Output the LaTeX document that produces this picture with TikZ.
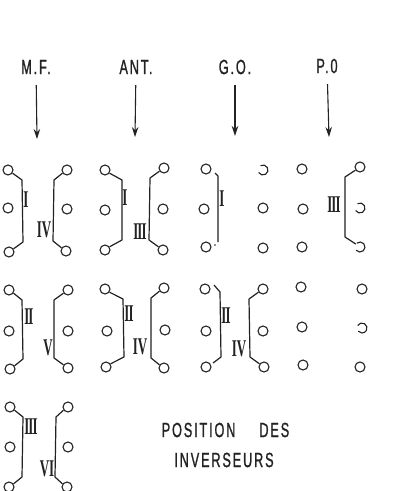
\documentclass[tikz,border=0pt]{standalone}
\usepackage{fontspec}
\usetikzlibrary{calc,arrows.meta}
\newfontfamily\cond[FakeStretch=0.62,FakeBold=1,LetterSpace=9]{Liberation Sans}
\newfontfamily\rom[FakeStretch=0.54]{Liberation Serif}
\definecolor{ink}{HTML}{222222}
\tikzset{
  x=1pt,y=-1pt,
  pin/.style={circle,draw=ink,line width=1.1pt,minimum size=10pt,inner sep=0pt},
  openpin/.style={circle,minimum size=10pt,inner sep=0pt},
  brk/.style={draw=ink,line width=1.2pt,line join=round},
  arr/.style={draw=ink,line width=1.1pt,shorten <=9pt,-{Stealth[length=10pt,width=6.5pt]}},
  ttl/.style={text=ink,font=\cond\fontsize{20.5}{20.5}\selectfont,inner sep=0pt,minimum height=18pt},
  num/.style={text=ink,font=\rom\bfseries\fontsize{24}{24}\selectfont,inner sep=0pt},
}
% right-hand bracket of a left column, and left-hand bracket of a right column
\newcommand\rb[3]{\draw[brk] (#1.-35) -- ($(#1)+(#3,10)$) -- ($(#2)+(#3,-10)$) -- (#2.35);}
\newcommand\lb[3]{\draw[brk] (#1.215) -- ($(#1)+(-#3,10)$) -- ($(#2)+(-#3,-10)$) -- (#2.145);}
\newcommand\II{I\kern-1pt I}
\newcommand\III{I\kern-1pt I\kern-1pt I}
\begin{document}
\begin{tikzpicture}
\useasboundingbox (0,0) rectangle (396,491);
% titles and arrows
\node[ttl] (mf) at (36,67) {M.F.};
\node[ttl] (ant) at (136,67) {ANT.};
\node[ttl] (go) at (235,67) {G.O.};
\node[ttl] (po) at (327,66) {P.0};
\coordinate (mfa) at (37,139);
\coordinate (anta) at (135,137);
\coordinate (goa) at (235,136);
\coordinate (poa) at (329,137);
\draw[arr] (mf) -- (mfa);
\draw[arr] (ant) -- (anta);
\draw[arr] (go) -- (goa);
\draw[arr] (po) -- (poa);
% row 1 pins
\node[pin] (a1) at (8,170) {}; \node[pin] (a2) at (8,208) {}; \node[pin] (a3) at (9,252) {};
\node[pin] (b1) at (67,170) {}; \node[pin] (b2) at (67,209) {}; \node[pin] (b3) at (66,251) {};
\node[pin] (c1) at (105,170) {}; \node[pin] (c2) at (105,210) {}; \node[pin] (c3) at (105,250) {};
\node[pin] (d1) at (164,168) {}; \node[pin] (d2) at (163,209) {}; \node[pin] (d3) at (163,250) {};
\node[pin] (e1) at (206,169) {}; \node[pin] (e2) at (204,209) {}; \node[pin] (e3) at (206,247) {};
\node[openpin] (f1) at (263,170) {}; \node[pin] (f2) at (263,208) {}; \node[pin] (f3) at (263,248) {};
\node[pin] (g1) at (302,169) {}; \node[pin] (g2) at (303,209) {}; \node[pin] (g3) at (302,247) {};
\node[pin] (h1) at (360,167) {}; \node[openpin] (h2) at (360,208) {}; \node[openpin] (h3) at (360,247) {};
% row 2 pins
\node[pin] (i1) at (9,290) {}; \node[pin] (i2) at (9,331) {}; \node[pin] (i3) at (10,369) {};
\node[pin] (j1) at (68,290) {}; \node[pin] (j2) at (68,331) {}; \node[pin] (j3) at (68,368) {};
\node[pin] (k1) at (105,289) {}; \node[pin] (k2) at (107,331) {}; \node[pin] (k3) at (106,367) {};
\node[pin] (l1) at (164,288) {}; \node[pin] (l2) at (165,330) {}; \node[pin] (l3) at (164,368) {};
\node[pin] (m1) at (205,289) {}; \node[pin] (m2) at (206,331) {}; \node[pin] (m3) at (206,367) {};
\node[pin] (n1) at (263,289) {}; \node[pin] (n2) at (263,331) {}; \node[pin] (n3) at (264,367) {};
\node[pin] (o1) at (301,287) {}; \node[pin] (o2) at (302,327) {}; \node[pin] (o3) at (303,365) {};
\node[pin] (p1) at (362,289) {}; \node[openpin] (p2) at (362,328) {}; \node[pin] (p3) at (360,367) {};
% row 3 pins
\node[pin] (q1) at (10,407) {}; \node[pin] (q2) at (10,447) {}; \node[pin] (q3) at (9,487) {};
\node[pin] (r1) at (68,407) {}; \node[pin] (r2) at (68,447) {}; \node[pin] (r3) at (67,487) {};
% partly faded pins
\foreach \p/\a/\b in {f1/-120/150,h2/-120/150,h3/-130/140,p2/-150/140}
  \draw[ink,line width=1.1pt] (\p)++(\a:5) arc[start angle=\a,end angle=\b,radius=5];
% brackets
\rb{a1}{a3}{14} \lb{b1}{b3}{13}
\rb{c1}{c3}{17} \lb{d1}{d3}{14}
\lb{h1}{h3}{15}
\rb{i1}{i3}{13} \lb{j1}{j3}{14}
\rb{k1}{k3}{18} \lb{l1}{l3}{13}
\lb{n1}{n3}{14}
\rb{q1}{q3}{13} \lb{r1}{r3}{12}
% interrupted brackets
\draw[brk] ($(e1)+(9,4)$) -- ($(e1)+(12,7)$) -- ($(e3)+(12,-5)$);
\draw[brk] ($(m1)+(9,-4)$) -- ($(m1)+(15,3)$) -- ($(m3)+(15,-10)$) -- ($(m3)+(7,-4)$);
\fill[ink] ($(e3)+(9,-2)$) circle (.8);
% numerals
\node[num] (n01) at (26,200) {I};
\node[num] (n02) at (44,230) {IV};
\node[num] (n03) at (125,198) {I};
\node[num] (n04) at (140,232) {\III};
\node[num] (n05) at (222,199) {I};
\node[num] (n06) at (334,205) {\III};
\node[num] (n07) at (29,317) {\II};
\node[num] (n08) at (48,348) {V};
\node[num] (n09) at (129,314) {\II};
\node[num] (n10) at (140,347) {IV};
\node[num] (n11) at (226,316) {\II};
\node[num] (n12) at (239,349) {IV};
\node[num] (n13) at (31,427) {\III};
\node[num] (n14) at (47,469) {VI};
% caption
\node[ttl] (cap1) at (225.5,430) {POSITION\hspace{24pt}DES};
\node[ttl] (cap2) at (224,460) {INVERSEURS};
\end{tikzpicture}
\end{document}
